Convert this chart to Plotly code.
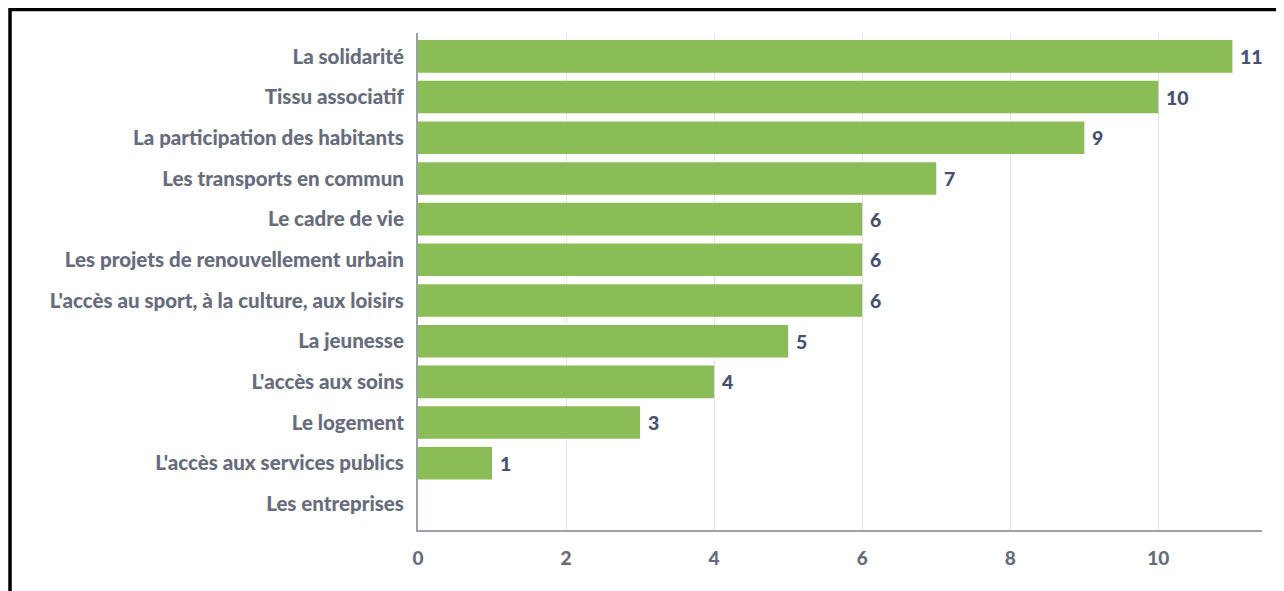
import plotly.graph_objects as go

categories = ["La solidarité", "Tissu associatif", "La participation des habitants",
              "Les transports en commun", "Le cadre de vie",
              "Les projets de renouvellement urbain",
              "L'accès au sport, à la culture, aux loisirs", "La jeunesse",
              "L'accès aux soins", "Le logement", "L'accès aux services publics",
              "Les entreprises"]
counts = [11, 10, 9, 7, 6, 6, 6, 5, 4, 3, 1, 0]
x_ticks = [0, 2, 4, 6, 8, 10]

bar_color = "#8abd56"
label_color = "#676c7c"
value_color = "#48506f"

fig = go.Figure()
fig.add_trace(go.Bar(
    x=counts,
    y=categories,
    orientation='h',
    marker=dict(color=bar_color, line=dict(width=0)),
    hoverinfo='x+y',
))

# value labels to the right of each bar (zero is left out)
for cat, val in zip(categories, counts):
    if val == 0:
        continue
    fig.add_annotation(
        x=val, y=cat, text=str(val),
        showarrow=False, xanchor='left', xshift=6,
        font=dict(family='Lato', size=19.5, color=value_color, weight=900),
    )

# black frame, only the top and left edges are visible in the crop
fig.add_shape(type='line', xref='paper', yref='paper',
              x0=-0.4834, x1=1.05, y0=1.0473, y1=1.0473,
              line=dict(color='black', width=3.5))
fig.add_shape(type='line', xref='paper', yref='paper',
              x0=-0.4834, x1=-0.4834, y0=1.051, y1=-0.2,
              line=dict(color='black', width=3.5))

fig.update_layout(
    width=1276, height=583,
    margin=dict(l=410, r=22, t=25, b=61),
    paper_bgcolor='white',
    plot_bgcolor='white',
    showlegend=False,
    bargap=0.2,
    font=dict(family='Lato', size=19, color=label_color),
    xaxis=dict(
        range=[0, 11.4],
        tickvals=x_ticks,
        showgrid=True, gridcolor='#e6e6e6', gridwidth=1,
        zeroline=False,
        showline=True, linecolor='#9aa0b0', linewidth=2,
        tickfont=dict(family='Lato', size=19, color=label_color, weight=900),
        ticklabelstandoff=10,
    ),
    yaxis=dict(
        categoryorder='array', categoryarray=categories,
        range=[11.64, -0.574],
        showgrid=False, zeroline=False,
        showline=True, linecolor='#9aa0b0', linewidth=2,
        tickfont=dict(family='Lato', size=20.5, color=label_color, weight=900),
        ticklabelstandoff=8,
    ),
)

fig.write_html("out.html")
